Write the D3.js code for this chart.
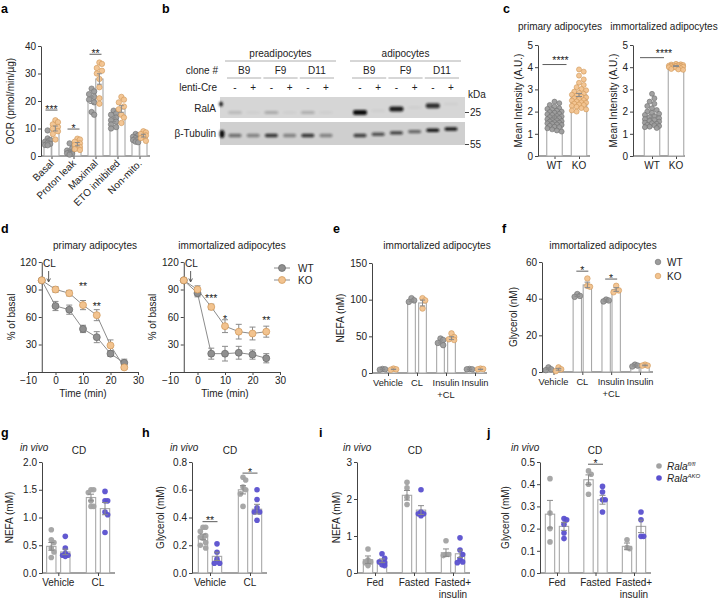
<!DOCTYPE html>
<html><head><meta charset="utf-8">
<script src="https://cdn.jsdelivr.net/npm/d3@7"></script>
<style>body{margin:0;background:#fff}svg{display:block}</style>
</head><body>
<script>
// ================= DATA =================
// panel a
const aGroups = ["Basal","Proton leak","Maximal","ETO inhibited","Non-mito."];
const aWTMean = [5.6,1.8,20.3,13.3,6.4];
const aKOMean = [10.0,4.3,28.0,17.1,7.4];
const aWTSem = [0.6,0.5,1.2,0.8,0.4];
const aKOSem = [0.9,0.6,1.9,1.2,0.5];
const aWTPts = [[9.3,6.4,5.8,5.2,4.8,4.4,4.0,3.9],[4.6,2.8,2.0,1.6,1.2,1.0,0.8,0.5],[24.5,23.5,22.5,21.5,20.5,19.5,16,15],[16.5,15.5,15,14,13,12.5,11.5,10.5,10],[8,7.5,7,6.5,6.2,5.8,5.2,5]];
const aKOPts = [[13,12.3,11.5,10.6,10,9,8,6],[6.3,6,5.2,4.6,4,3.3,2.5,2.2],[34,33.5,32,31,30,28,25,21,19],[21.5,20.5,19.5,18,17,15,14,12],[9,8.6,8,7.5,7,6.5,5.5]];
const aSig = [{g:"Basal",v:16.7,t:"***"},{g:"Proton leak",v:9.8,t:"*"},{g:"Maximal",v:37,t:"**"}];
const aTicks = [0,10,20,30,40];

// panel b (western blot)
const cellTypes = ["preadipocytes","adipocytes"];
const clones = ["B9","F9","D11"];
const lentiCre = ["-","+"];
const ralaBand = [0.14,0.03,0.22,0.03,0.2,0.03,1.0,0.03,0.92,0.03,0.82,0.03];
const tubulinBand = [0.5,0.4,0.8,0.4,0.8,0.4,0.75,0.65,0.75,0.55,0.95,0.95];
const kdaMarkers = ["25","55"];

// panel c
const cGroups = ["WT","KO"];
const cPrimMean = [1.75,2.75];
const cPrimSem = [0.05,0.07];
const cPrimPts = [
 [2.45,2.38,2.3,2.22,2.15,2.12,2.08,2.04,2.0,1.98,1.95,1.9,1.88,1.85,1.8,1.78,1.75,1.72,1.7,1.66,1.62,1.6,1.57,1.55,1.52,1.5,1.47,1.45,1.42,1.4,1.36,1.32,1.3,1.25,1.2,1.15,1.1],
 [3.9,3.8,3.62,3.45,3.3,3.2,3.1,3.02,2.96,2.9,2.85,2.8,2.76,2.72,2.68,2.64,2.6,2.56,2.52,2.5,2.46,2.42,2.4,2.36,2.32,2.3,2.26,2.22,2.16,2.1,2.05,2.0]];
const cImmMean = [1.8,4.05];
const cImmSem = [0.07,0.02];
const cImmPts = [
 [2.8,2.6,2.45,2.35,2.25,2.15,2.07,2.0,1.95,1.9,1.85,1.8,1.75,1.7,1.66,1.62,1.58,1.55,1.5,1.48,1.45,1.4,1.38,1.35,1.32,1.3,1.26],
 [4.15,4.13,4.12,4.1,4.1,4.08,4.07,4.06,4.05,4.04,4.03,4.02,4.0,4.0,3.98,3.95,3.92,3.9,3.88]];
const cTicks = [0,1,2,3,4,5];

// panel d
const dTime = [-5,0,5,10,15,20,25];
const dPrimWT = [100,72,68,47,38,20,10];
const dPrimWTSem = [0,5,5,4,6,3,4];
const dPrimKO = [100,90,86,73,62,29,5];
const dPrimKOSem = [0,3,3,5,6,6,2];
const dImmWT = [100,86,20,20,21,19,15];
const dImmWTSem = [0,4,6,8,7,5,5];
const dImmKO = [100,90,71,50,44,42,44];
const dImmKOSem = [0,4,3,7,8,7,6];
const dPrimSig = [{t:10,v:89,s:"**"},{t:15,v:68,s:"**"}];
const dImmSig = [{t:5,v:76,s:"***"},{t:10,v:54,s:"*"},{t:25,v:52,s:"**"}];
const dXTicks = [-10,0,10,20,30];
const dYTicks = [30,60,90,120];

// panel e
const efGroups = ["Vehicle","CL","Insulin\n+CL","Insulin"];
const eWTMean = [5,98.5,43,5];
const eKOMean = [5,95.5,47.5,5];
const eWTSem = [0.3,1.2,2,0.3];
const eKOSem = [0.3,4,2,0.3];
const eWTPts = [[5.5,5,4.5],[102,99,97],[47,45,41,38],[5.5,5,5]];
const eKOPts = [[6,5,4.5],[102,99,88],[54,49,46,45],[6,5.5,5]];
const eTicks = [0,50,100,150];

// panel f
const fWTMean = [1.7,41.7,39,3.5];
const fKOMean = [1.5,47.5,45,3.6];
const fWTSem = [0.4,0.5,0.4,0.3];
const fKOSem = [0.5,1.5,1.0,0.2];
const fWTPts = [[2.5,1.5,1],[42.5,41.5,41],[39.5,39,38.5],[4,3.5,3]];
const fKOPts = [[2.5,1.5,0.5],[51,47,46.5],[47,44.5,43.5],[4,3.5,3.5]];
const fSig = [{g:"CL",v:55,t:"*"},{g:"Insulin\n+CL",v:50.7,t:"*"}];
const fTicks = [0,20,40,60];

// panel g
const ghGroups = ["Vehicle","CL"];
const gWTMean = [0.48,1.36];
const gKOMean = [0.38,1.16];
const gWTSem = [0.07,0.06];
const gKOSem = [0.05,0.11];
const gWTPts = [[0.78,0.6,0.55,0.45,0.38,0.28],[1.5,1.5,1.45,1.3,1.2,1.2]];
const gKOPts = [[0.66,0.45,0.35,0.32,0.32,0.3],[1.47,1.3,1.3,1.1,1.05,0.73]];
const gTicks = [0,0.5,1.0,1.5,2.0];

// panel h
const hWTMean = [0.26,0.6];
const hKOMean = [0.12,0.46];
const hWTSem = [0.02,0.03];
const hKOSem = [0.03,0.035];
const hWTPts = [[0.33,0.33,0.3,0.27,0.26,0.25,0.22,0.2,0.18],[0.69,0.67,0.62,0.6,0.57,0.48]];
const hKOPts = [[0.21,0.15,0.1,0.07,0.07],[0.6,0.53,0.47,0.44,0.44,0.38]];
const hSig = [{g:"Vehicle",v:0.37,t:"**"},{g:"CL",v:0.72,t:"*"}];
const hTicks = [0,0.2,0.4,0.6,0.8];

// panel i
const ijGroups = ["Fed","Fasted","Fasted+\ninsulin"];
const iWTMean = [0.36,2.1,0.55];
const iKOMean = [0.33,1.7,0.52];
const iWTSem = [0.1,0.13,0.1];
const iKOSem = [0.05,0.12,0.1];
const iWTPts = [[0.65,0.35,0.3,0.28,0.2],[2.45,2.3,2.05,1.85],[0.87,0.5,0.5,0.47]];
const iKOPts = [[0.52,0.4,0.3,0.28,0.22,0.2],[2.25,1.65,1.6,1.6,1.55],[0.95,0.62,0.5,0.38,0.3,0.28]];
const iTicks = [0,1,2,3];

// panel j
const jWTMean = [0.265,0.42,0.12];
const jKOMean = [0.21,0.33,0.21];
const jWTSem = [0.062,0.022,0.015];
const jKOSem = [0.018,0.02,0.028];
const jWTPts = [[0.425,0.27,0.2,0.14],[0.46,0.445,0.4,0.355],[0.15,0.115,0.11]];
const jKOPts = [[0.245,0.24,0.22,0.18,0.155],[0.39,0.365,0.33,0.33,0.275],[0.275,0.24,0.165,0.165]];
const jSig = [{g:"Fasted",v:0.49,t:"*"}];
const jTicks = [0,0.1,0.2,0.3,0.4,0.5];

// ================= DRAWING =================
const FONT = "'Liberation Sans', Arial, Helvetica, sans-serif";
const AX = "#444";
const FS = 10;
const GRAY = {fill:"#9c9c9c", stroke:"#6f6f6f"};
const ORANGE = {fill:"#f2c38f", stroke:"#cf9556"};
const GRAY2 = {fill:"#a2a2a2", stroke:"none"};
const BLUE = {fill:"#5a50cf", stroke:"none"};
const BARSTROKE = "#a8a8a8";
const ERR = "#8a8a8a";

const svg = d3.select("body").append("svg").attr("width",720).attr("height",599)
  .attr("font-family",FONT).attr("font-size",FS);

function txt(x,y,s,o={}) {
  const t = svg.append("text").attr("x",x).attr("y",y).text(s)
    .attr("text-anchor",o.anchor||"middle").attr("fill",o.fill||"#222")
    .attr("font-size",o.size||FS);
  if (o.bold) t.attr("font-weight","bold");
  if (o.italic) t.attr("font-style","italic");
  if (o.rotate) t.attr("transform",`rotate(${o.rotate},${x},${y})`);
  return t;
}
function styleAxis(sel) {
  sel.attr("font-family",FONT).attr("font-size",FS);
  sel.select(".domain").attr("stroke",AX);
  sel.selectAll(".tick line").attr("stroke",AX);
  sel.selectAll(".tick text").attr("fill","#222");
}
function swarm(vals, y, r, maxDx) {
  const items = vals.map((v,i)=>({i,py:y(v)})).sort((a,b)=>a.py-b.py);
  const placed = []; const out = new Array(vals.length).fill(0);
  const step = r*0.95, minD = 2*r*0.92;
  for (const it of items) {
    let chosen = null, bestScore = -1, bestC = 0;
    for (let k=0;k<60;k++) {
      const c = (k%2===1?1:-1)*Math.ceil(k/2)*step;
      if (Math.abs(c)>maxDx+1e-6) continue;
      let md = Infinity;
      for (const p of placed) md = Math.min(md, Math.hypot(p.x-c,p.y-it.py));
      if (md>=minD) { chosen=c; break; }
      if (md>bestScore) { bestScore=md; bestC=c; }
    }
    if (chosen===null) chosen = bestC;
    placed.push({x:chosen,y:it.py}); out[it.i]=chosen;
  }
  return out;
}

function barPanel(o) {
  const y = d3.scaleLinear().domain([0,o.yMax]).range([o.yBot,o.yTop]);
  const x = d3.scalePoint().domain(o.groups).range(o.centers);
  const inner = d3.scaleBand().domain(o.series.map(s=>s.key)).range([-o.half,o.half]).paddingInner(o.pad);
  const bw = inner.bandwidth();
  const g = svg.append("g");
  g.append("g").attr("transform",`translate(${o.x0},0)`)
    .call(d3.axisLeft(y).tickValues(o.ticks).tickFormat(o.fmt).tickSize(3).tickSizeOuter(0).tickPadding(2))
    .call(styleAxis);
  const xa = g.append("g").attr("transform",`translate(0,${o.yBot})`)
    .call(d3.axisBottom(x).tickSize(3).tickFormat("")).call(styleAxis);
  xa.select(".domain").remove();
  g.append("line").attr("x1",o.x0).attr("x2",o.x1).attr("y1",o.yBot).attr("y2",o.yBot).attr("stroke",AX);
  const pick = (v,i)=>Array.isArray(v)?v[i]:v;
  o.series.forEach(s=>{
    o.groups.forEach((gr,i)=>{
      if (s.means[i]==null) return;
      g.append("rect").attr("x",x(gr)+inner(s.key)).attr("width",bw)
        .attr("y",y(s.means[i])).attr("height",o.yBot-y(s.means[i]))
        .attr("fill","#fff").attr("stroke",BARSTROKE).attr("stroke-width",1.1);
    });
  });
  o.series.forEach(s=>{
    o.groups.forEach((gr,i)=>{
      const pts = s.points[i]; if(!pts) return;
      const cx = x(gr)+inner(s.key)+bw/2;
      const off = swarm(pts,y,o.r,o.maxDx);
      pts.forEach((v,k)=>{
        g.append("circle").attr("cx",cx+off[k]).attr("cy",y(v)).attr("r",o.r)
          .attr("fill",pick(s.fill,i)).attr("stroke",pick(s.stroke,i)).attr("stroke-width",0.6)
          .attr("fill-opacity",0.95);
      });
    });
  });
  o.series.forEach(s=>{
    o.groups.forEach((gr,i)=>{
      if (s.means[i]==null) return;
      const cx = x(gr)+inner(s.key)+bw/2, m=s.means[i], e=s.sems[i];
      const y1=y(m+e), y2=y(Math.max(0,m-e)), cw=Math.min(3,bw/3);
      g.append("path").attr("d",`M${cx},${y2}V${y1}M${cx-cw},${y1}H${cx+cw}M${cx-cw},${y2}H${cx+cw}`)
        .attr("stroke",ERR).attr("stroke-width",1).attr("fill","none");
    });
  });
  (o.sig||[]).forEach(sg=>{
    const cx = x(sg.g), w = o.sigW;
    g.append("line").attr("x1",cx-w).attr("x2",cx+w).attr("y1",y(sg.v)).attr("y2",y(sg.v)).attr("stroke","#333").attr("stroke-width",0.8);
    txt(cx, y(sg.v)+2.6, sg.t, {size:10.5});
  });
  o.groups.forEach(gr=>{
    if (o.rotate) {
      txt(x(gr)+3, o.yBot+8, gr, {anchor:"end", rotate:-45});
    } else {
      const lines = gr.split("\n");
      lines.forEach((ln,k)=> txt(x(gr), o.yBot+13+k*12, ln, {size:o.labelSize||FS}));
    }
  });
  txt(o.yLabelX, (o.yTop+o.yBot)/2, o.yLabel, {rotate:-90});
  return {x,y};
}

// ---------- panel labels ----------
[["a",1,13],["b",162,13],["c",503,13],["d",1,233],["e",333,233],["f",502,233],["g",1,437],["h",142,437],["i",319,437],["j",487,437]]
  .forEach(([s,x,y])=>txt(x,y,s,{anchor:"start",bold:true,size:12.5,fill:"#000"}));

// ---------- panel a ----------
barPanel({x0:41,x1:150,yTop:46,yBot:156,yMax:40,ticks:aTicks,fmt:d3.format("d"),
  groups:aGroups,centers:[51.5,139.5],half:7.5,pad:0.07,r:2.7,maxDx:3.2,rotate:true,sigW:6,
  series:[{key:"WT",means:aWTMean,sems:aWTSem,points:aWTPts,fill:GRAY.fill,stroke:GRAY.stroke},
          {key:"KO",means:aKOMean,sems:aKOSem,points:aKOPts,fill:ORANGE.fill,stroke:ORANGE.stroke}],
  sig:aSig,yLabel:"OCR (pmol/min/µg)",yLabelX:14});

// ---------- panel b ----------
(function(){
  const grp = d3.scalePoint().domain(cellTypes).range([235,360]);
  const inn = d3.scalePoint().domain(d3.range(6)).range([0,91]);
  const laneX = i => grp(cellTypes[Math.floor(i/6)]) + inn(i%6);
  const tilt = i => i<6 ? 0 : -(i-6)*1.3;
  const defs = svg.append("defs");
  defs.append("filter").attr("id","blur").attr("x","-50%").attr("y","-100%").attr("width","200%").attr("height","300%")
    .append("feGaussianBlur").attr("stdDeviation",0.9);
  cellTypes.forEach(ct=>{
    const x0 = grp(ct);
    txt(x0+45.5, 57, ct);
    svg.append("line").attr("x1",x0-10).attr("x2",x0+101).attr("y1",61).attr("y2",61).attr("stroke","#999").attr("stroke-width",0.8);
  });
  txt(218,74,"clone #",{anchor:"end"});
  txt(217,91,"lenti-Cre",{anchor:"end"});
  for (let c=0;c<6;c++) {
    const a = laneX(2*c), b = laneX(2*c+1);
    txt((a+b)/2, 74, clones[c%3]);
    svg.append("line").attr("x1",a-8).attr("x2",b+8).attr("y1",78).attr("y2",78).attr("stroke","#999").attr("stroke-width",0.8);
  }
  d3.range(12).forEach(i=>txt(laneX(i), 91, lentiCre[i%2]));
  svg.append("rect").attr("x",220).attr("y",97).attr("width",245).attr("height",21).attr("fill","#d6d6d6");
  svg.append("rect").attr("x",220).attr("y",122).attr("width",245).attr("height",23).attr("fill","#cfcfcf");
  svg.append("ellipse").attr("cx",221).attr("cy",104).attr("rx",2).attr("ry",2.5).attr("fill","#222").attr("filter","url(#blur)");
  svg.append("ellipse").attr("cx",222).attr("cy",134).attr("rx",2.5).attr("ry",4).attr("fill","#111").attr("filter","url(#blur)");
  d3.range(12).forEach(i=>{
    const big = ralaBand[i] > 0.5;
    svg.append("rect").attr("x",laneX(i)-7).attr("y",112.5+tilt(i)*1.3-(big?2.5:1.5))
      .attr("width",14).attr("height",big?5:3).attr("rx",2)
      .attr("fill","#111").attr("opacity",ralaBand[i]).attr("filter","url(#blur)");
    svg.append("rect").attr("x",laneX(i)-6.5).attr("y",135.5+tilt(i)-1.7)
      .attr("width",13).attr("height",3.4).attr("rx",1.7)
      .attr("fill","#111").attr("opacity",tubulinBand[i]).attr("filter","url(#blur)");
  });
  txt(216,112,"RalA",{anchor:"end"});
  txt(216,137,"β-Tubulin",{anchor:"end"});
  txt(468,98,"kDa",{anchor:"start"});
  [[kdaMarkers[0],116],[kdaMarkers[1],148]].forEach(([s,yy])=>{
    svg.append("line").attr("x1",465).attr("x2",469).attr("y1",yy-3.5).attr("y2",yy-3.5).attr("stroke","#444");
    txt(470,yy,s,{anchor:"start"});
  });
})();

// ---------- panel c ----------
barPanel({x0:538,x1:590,yTop:45,yBot:156,yMax:5,ticks:cTicks,fmt:d3.format("d"),
  groups:cGroups,centers:[554.5,579],half:7.75,pad:0,r:2.5,maxDx:7.5,sigW:12,
  series:[{key:"all",means:cPrimMean,sems:cPrimSem,points:cPrimPts,fill:[GRAY.fill,ORANGE.fill],stroke:[GRAY.stroke,ORANGE.stroke]}],
  sig:[{g:"WT",v:4.12,t:""}],yLabel:"Mean Intensity (A.U.)",yLabelX:522});
txt(560,30,"primary adipocytes");
txt(560.5,63.5,"****",{size:10.5});
barPanel({x0:633,x1:685,yTop:45,yBot:156,yMax:5,ticks:cTicks,fmt:d3.format("d"),
  groups:cGroups,centers:[652,676],half:7.75,pad:0,r:2.5,maxDx:7.5,sigW:12,
  series:[{key:"all",means:cImmMean,sems:cImmSem,points:cImmPts,fill:[GRAY.fill,ORANGE.fill],stroke:[GRAY.stroke,ORANGE.stroke]}],
  sig:[{g:"WT",v:4.43,t:""}],yLabel:"Mean Intensity (A.U.)",yLabelX:617});
txt(664,30,"immortalized adipocytes");
txt(664,56.5,"****",{size:10.5});

// ---------- panel d ----------
function linePanel(o){
  const x = d3.scaleLinear().domain([-10,30]).range([o.x0,o.x1]);
  const y = d3.scaleLinear().domain([0,120]).range([372,262]);
  const g = svg.append("g");
  g.append("g").attr("transform","translate(0,372)")
    .call(d3.axisBottom(x).tickValues(dXTicks).tickSize(3).tickSizeOuter(0).tickPadding(2)).call(styleAxis);
  g.append("g").attr("transform",`translate(${x(-5)},0)`)
    .call(d3.axisLeft(y).tickValues(dYTicks).tickSize(3).tickSizeOuter(0).tickPadding(2)).call(styleAxis);
  const line = d3.line().x((d,i)=>x(dTime[i])).y(d=>y(d));
  o.series.forEach(s=>{
    g.append("path").attr("d",line(s.vals)).attr("fill","none").attr("stroke","#8c8c8c").attr("stroke-width",1);
  });
  o.series.forEach(s=>{
    s.vals.forEach((v,i)=>{
      const e=s.sems[i]; if(!e) return;
      const cx=x(dTime[i]);
      g.append("path").attr("d",`M${cx},${y(v-e)}V${y(v+e)}M${cx-3},${y(v+e)}H${cx+3}M${cx-3},${y(v-e)}H${cx+3}`)
        .attr("stroke",ERR).attr("fill","none");
    });
  });
  o.series.forEach(s=>{
    s.vals.forEach((v,i)=>{
      g.append("circle").attr("cx",x(dTime[i])).attr("cy",y(v)).attr("r",3.5)
        .attr("fill",s.fill).attr("stroke",s.stroke).attr("stroke-width",0.7);
    });
  });
  o.sig.forEach(sg=>txt(x(sg.t), y(sg.v), sg.s, {size:10.5}));
  txt(x(-2.2), 266.5, "CL");
  g.append("path").attr("d",`M${x(-2.5)},271V281`).attr("stroke","#333").attr("stroke-width",0.8);
  g.append("path").attr("d",`M${x(-2.5)-1.8},278.5L${x(-2.5)},282L${x(-2.5)+1.8},278.5`).attr("stroke","#333").attr("fill","none").attr("stroke-width",0.8);
  txt((o.x0+o.x1)/2, 397, "Time (min)");
  txt(o.yLabelX, 317, "% of basal", {rotate:-90});
  txt(o.titleX, 248.5, o.title);
}
linePanel({x0:28,x1:138,yLabelX:15,titleX:95,title:"primary adipocytes",
  series:[{vals:dPrimWT,sems:dPrimWTSem,fill:"#8f8f8f",stroke:"#666"},{vals:dPrimKO,sems:dPrimKOSem,fill:ORANGE.fill,stroke:ORANGE.stroke}],
  sig:dPrimSig});
linePanel({x0:170,x1:280,yLabelX:156,titleX:232,title:"immortalized adipocytes",
  series:[{vals:dImmWT,sems:dImmWTSem,fill:"#8f8f8f",stroke:"#666"},{vals:dImmKO,sems:dImmKOSem,fill:ORANGE.fill,stroke:ORANGE.stroke}],
  sig:dImmSig});
[["WT","#8f8f8f","#666",268],["KO",ORANGE.fill,ORANGE.stroke,280]].forEach(([s,f,st,yy])=>{
  svg.append("line").attr("x1",274).attr("x2",290).attr("y1",yy).attr("y2",yy).attr("stroke","#8c8c8c");
  svg.append("circle").attr("cx",282).attr("cy",yy).attr("r",3.5).attr("fill",f).attr("stroke",st).attr("stroke-width",0.7);
  txt(298,yy+3.5,s,{anchor:"start"});
});

// ---------- panel e ----------
barPanel({x0:372,x1:487,yTop:263,yBot:373,yMax:150,ticks:eTicks,fmt:d3.format("d"),
  groups:efGroups,centers:[388,475],half:9.35,pad:0.3,r:2.8,maxDx:3,sigW:6,labelSize:9.3,
  series:[{key:"WT",means:eWTMean,sems:eWTSem,points:eWTPts,fill:GRAY.fill,stroke:GRAY.stroke},
          {key:"KO",means:eKOMean,sems:eKOSem,points:eKOPts,fill:ORANGE.fill,stroke:ORANGE.stroke}],
  sig:[],yLabel:"NEFA (nM)",yLabelX:344});
txt(437,248.5,"immortalized adipocytes");

// ---------- panel f ----------
barPanel({x0:542,x1:653,yTop:262,yBot:372,yMax:60,ticks:fTicks,fmt:d3.format("d"),
  groups:efGroups,centers:[553.5,640],half:9.2,pad:0.17,r:2.8,maxDx:3,sigW:6,labelSize:9.3,
  series:[{key:"WT",means:fWTMean,sems:fWTSem,points:fWTPts,fill:GRAY.fill,stroke:GRAY.stroke},
          {key:"KO",means:fKOMean,sems:fKOSem,points:fKOPts,fill:ORANGE.fill,stroke:ORANGE.stroke}],
  sig:fSig,yLabel:"Glycerol (nM)",yLabelX:517});
txt(603,248.5,"immortalized adipocytes");
[["WT",GRAY,262],["KO",ORANGE,276]].forEach(([s,c,yy])=>{
  svg.append("circle").attr("cx",658).attr("cy",yy).attr("r",2.8).attr("fill",c.fill).attr("stroke",c.stroke).attr("stroke-width",0.6);
  txt(667,yy+3.5,s,{anchor:"start"});
});

// ---------- panels g-j ----------
const invivo = (x,cdX)=>{ txt(x,450.5,"in vivo",{anchor:"start",italic:true}); txt(cdX,453.5,"CD"); };
barPanel({x0:42,x1:115,yTop:462,yBot:573,yMax:2,ticks:gTicks,fmt:d3.format(".1f"),
  groups:ghGroups,centers:[58.3,98],half:11.67,pad:0.333,r:2.8,maxDx:4,sigW:7.5,
  series:[{key:"fl",means:gWTMean,sems:gWTSem,points:gWTPts,fill:GRAY2.fill,stroke:GRAY2.stroke},
          {key:"AKO",means:gKOMean,sems:gKOSem,points:gKOPts,fill:BLUE.fill,stroke:BLUE.stroke}],
  sig:[],yLabel:"NEFA (mM)",yLabelX:13});
invivo(20,79);
barPanel({x0:192,x1:267,yTop:462,yBot:573,yMax:0.8,ticks:hTicks,fmt:d3.format(".1f"),
  groups:ghGroups,centers:[210,250],half:11.67,pad:0.333,r:2.8,maxDx:4,sigW:7.5,
  series:[{key:"fl",means:hWTMean,sems:hWTSem,points:hWTPts,fill:GRAY2.fill,stroke:GRAY2.stroke},
          {key:"AKO",means:hKOMean,sems:hKOSem,points:hKOPts,fill:BLUE.fill,stroke:BLUE.stroke}],
  sig:hSig,yLabel:"Glycerol (mM)",yLabelX:164});
invivo(170,230);
barPanel({x0:357,x1:470,yTop:462,yBot:573,yMax:3,ticks:iTicks,fmt:d3.format("d"),
  groups:ijGroups,centers:[375,453],half:11.67,pad:0.333,r:2.8,maxDx:4,sigW:7.5,
  series:[{key:"fl",means:iWTMean,sems:iWTSem,points:iWTPts,fill:GRAY2.fill,stroke:GRAY2.stroke},
          {key:"AKO",means:iKOMean,sems:iKOSem,points:iKOPts,fill:BLUE.fill,stroke:BLUE.stroke}],
  sig:[],yLabel:"NEFA (mM)",yLabelX:340});
invivo(343,415);
barPanel({x0:540,x1:651,yTop:462,yBot:573,yMax:0.5,ticks:jTicks,fmt:d3.format(".1f"),
  groups:ijGroups,centers:[557,634],half:11.67,pad:0.333,r:2.8,maxDx:4,sigW:7.5,
  series:[{key:"fl",means:jWTMean,sems:jWTSem,points:jWTPts,fill:GRAY2.fill,stroke:GRAY2.stroke},
          {key:"AKO",means:jKOMean,sems:jKOSem,points:jKOPts,fill:BLUE.fill,stroke:BLUE.stroke}],
  sig:jSig,yLabel:"Glycerol (mM)",yLabelX:509});
invivo(511,595);
[["fl/fl",GRAY2,466],["AKO",BLUE,478]].forEach(([sup,c,yy])=>{
  svg.append("circle").attr("cx",659).attr("cy",yy).attr("r",2.8).attr("fill",c.fill);
  const t = txt(667,yy+3.5,"Rala",{anchor:"start",italic:true});
  t.append("tspan").attr("font-size",6).attr("dy",-3.5).text(sup);
});
</script>
</body></html>
